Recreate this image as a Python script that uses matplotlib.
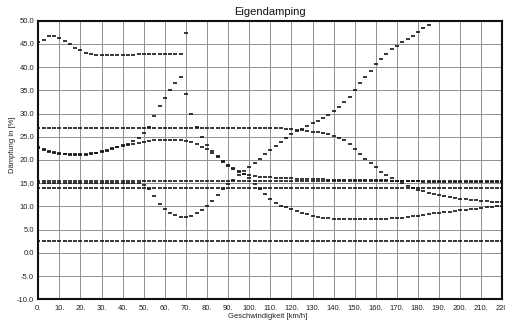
import numpy as np
import matplotlib
matplotlib.use("Agg")
import matplotlib.pyplot as plt

plt.rcParams['font.family'] = ['Liberation Sans', 'DejaVu Sans']

# ---------------- data (speed grid step 2.5 km/h) ----------------
step = 2.5

# top mode (0 .. 70 km/h)
a_start = 0.0
a_vals = [45.4, 45.9, 46.7, 46.8, 46.3, 45.6, 44.9, 44.2, 43.6, 43.1,
          42.8, 42.7, 42.6, 42.6, 42.6, 42.6, 42.6, 42.7, 42.7, 42.8,
          42.8, 42.8, 42.9, 42.9, 42.9, 42.9, 42.9, 42.9, 47.3]

# ~27 % mode (0 .. 220)
b_start = 0.0
b_vals = [26.9, 26.9, 26.9, 26.9, 26.9, 26.9, 26.9, 26.9, 26.9, 26.9,
          26.9, 26.9, 26.9, 26.9, 26.9, 26.9, 26.9, 26.9, 26.9, 26.9,
          26.9, 26.9, 26.9, 26.9, 26.8, 26.8, 26.8, 26.8, 26.8, 26.8,
          26.8, 26.8, 26.8, 26.8, 26.8, 26.8, 26.8, 26.8, 26.8, 26.8,
          26.8, 26.8, 26.8, 26.8, 26.8, 26.8, 26.8,
          26.7, 26.6, 26.5, 26.4, 26.3, 26.1, 26.0, 25.8, 25.5, 25.2,
          24.8, 24.3, 23.4, 22.3, 21.2, 20.2, 19.3, 18.4, 17.5, 16.7,
          16.1, 15.5, 15.0, 14.5, 14.0, 13.6, 13.3, 12.9, 12.6, 12.4,
          12.2, 12.0, 11.8, 11.6, 11.5, 11.4, 11.3, 11.2, 11.1, 11.0,
          11.0, 10.9]

# ~22 % mode (0 .. 220)
c_start = 0.0
c_vals = [22.6, 22.2, 21.8, 21.5, 21.3, 21.2, 21.1, 21.0, 21.1, 21.1,
          21.2, 21.4, 21.7, 22.0, 22.4, 22.7, 23.0, 23.2, 23.5, 23.7,
          23.9, 24.1, 24.2, 24.3, 24.4, 24.4, 24.4, 24.3, 24.1, 23.8,
          23.4, 22.9, 22.3, 21.6, 20.6, 19.6, 18.8, 18.0, 17.4, 17.0,
          16.7, 16.5, 16.4, 16.3, 16.3, 16.2, 16.2, 16.1, 16.1, 16.0,
          16.0, 16.0, 15.9, 15.9, 15.9, 15.8, 15.8, 15.8, 15.8, 15.7,
          15.7, 15.7, 15.7, 15.6, 15.6, 15.6, 15.6, 15.5, 15.5, 15.5,
          15.4, 15.4, 15.4, 15.3, 15.3, 15.3, 15.3, 15.3, 15.2, 15.2,
          15.2, 15.2, 15.2, 15.2, 15.2, 15.2, 15.2, 15.2, 15.2]

# steeply rising mode (0 .. 67.5)
f_start = 0.0
f_vals = [22.9, 22.4, 22.0, 21.7, 21.4, 21.3, 21.2, 21.2, 21.2, 21.3,
          21.4, 21.6, 21.9, 22.2, 22.5, 22.9, 23.2, 23.5, 24.0, 24.8,
          25.8, 27.2, 29.4, 31.6, 33.4, 35.0, 36.5, 37.9]

# falling mode (70 .. 220)
p_start = 70.0
p_vals = [34.2, 30.0, 27.1, 25.0, 23.3, 22.0, 20.8, 19.7, 18.9, 18.2,
          17.6, 17.0, 16.1, 14.9, 13.7, 12.7, 11.6, 10.8, 10.2, 9.8,
          9.4, 9.0, 8.6, 8.3, 8.0, 7.8, 7.6, 7.5, 7.4, 7.3,
          7.2, 7.2, 7.2, 7.2, 7.2, 7.2, 7.3, 7.3, 7.4, 7.5,
          7.5, 7.6, 7.7, 7.9, 8.0, 8.2, 8.3, 8.5, 8.6, 8.8,
          8.9, 9.0, 9.2, 9.3, 9.4, 9.5, 9.7, 9.8, 9.9, 10.0,
          10.2]

# 15 % mode with dip and rise (0 .. 185)
d_start = 0.0
d_vals = [15.0, 15.0, 15.0, 15.0, 15.0, 15.0, 15.0, 15.0, 15.0, 15.0,
          15.0, 15.0, 15.0, 15.0, 15.0, 15.0, 15.1, 15.1, 15.1, 15.1,
          14.6, 13.8, 12.3, 10.6, 9.4, 8.6, 8.1, 7.8, 7.8, 8.0,
          8.5, 9.3, 10.2, 11.2, 12.4, 13.7, 14.9, 15.8,
          16.8, 17.7, 18.6, 19.4, 20.2, 21.2, 22.1, 23.0, 23.8, 24.8,
          25.6, 26.2, 26.7, 27.4, 28.0, 28.5, 29.1, 29.7, 30.6, 31.5,
          32.4, 33.5, 35.1, 36.5, 37.8, 39.2, 40.6, 41.8, 42.9, 43.8,
          44.6, 45.4, 46.1, 46.8, 47.6, 48.4, 49.1]

# flat modes (0 .. 220)
h1_start = 0.0
h1_vals = [15.5, 15.5, 15.5, 15.5, 15.5, 15.5, 15.5, 15.5, 15.5, 15.5,
           15.5, 15.5, 15.5, 15.5, 15.5, 15.5, 15.5, 15.5, 15.5, 15.5,
           15.5, 15.5, 15.5, 15.5, 15.5, 15.5, 15.5, 15.5, 15.5, 15.5,
           15.5, 15.5, 15.5, 15.5, 15.5, 15.5, 15.5, 15.5, 15.5, 15.5,
           15.5, 15.5, 15.5, 15.5, 15.5, 15.5, 15.5, 15.5, 15.5, 15.5,
           15.5, 15.5, 15.5, 15.5, 15.5, 15.5, 15.5, 15.5, 15.5, 15.5,
           15.5, 15.5, 15.5, 15.5, 15.5, 15.5, 15.5, 15.5, 15.5, 15.5,
           15.5, 15.5, 15.5, 15.5, 15.5, 15.5, 15.5, 15.5, 15.5, 15.5,
           15.5, 15.5, 15.5, 15.5, 15.5, 15.5, 15.5, 15.5, 15.5]
h2_start = 0.0
h2_vals = [13.9, 13.9, 13.9, 13.9, 13.9, 13.9, 13.9, 13.9, 13.9, 13.9,
           13.9, 13.9, 13.9, 13.9, 13.9, 13.9, 13.9, 13.9, 13.9, 13.9,
           13.9, 13.9, 13.9, 13.9, 13.9, 13.9, 13.9, 13.9, 13.9, 13.9,
           13.9, 13.9, 13.9, 13.9, 13.9, 13.9, 13.9, 13.9, 13.9, 13.9,
           13.9, 13.9, 13.9, 13.9, 13.9, 13.9, 13.9, 13.9, 13.9, 13.9,
           13.9, 13.9, 13.9, 13.9, 13.9, 13.9, 13.9, 13.9, 13.9, 13.9,
           13.9, 13.9, 13.9, 13.9, 13.9, 13.9, 13.9, 13.9, 13.9, 13.9,
           13.9, 13.9, 13.9, 13.9, 13.9, 13.9, 13.9, 13.9, 13.9, 13.9,
           13.9, 13.9, 13.9, 13.9, 13.9, 13.9, 13.9, 13.9, 13.9]
h3_start = 0.0
h3_vals = [2.5, 2.5, 2.5, 2.5, 2.5, 2.5, 2.5, 2.5, 2.5, 2.5,
           2.5, 2.5, 2.5, 2.5, 2.5, 2.5, 2.5, 2.5, 2.5, 2.5,
           2.5, 2.5, 2.5, 2.5, 2.5, 2.5, 2.5, 2.5, 2.5, 2.5,
           2.5, 2.5, 2.5, 2.5, 2.5, 2.5, 2.5, 2.5, 2.5, 2.5,
           2.5, 2.5, 2.5, 2.5, 2.5, 2.5, 2.5, 2.5, 2.5, 2.5,
           2.5, 2.5, 2.5, 2.5, 2.5, 2.5, 2.5, 2.5, 2.5, 2.5,
           2.5, 2.5, 2.5, 2.5, 2.5, 2.5, 2.5, 2.5, 2.5, 2.5,
           2.5, 2.5, 2.5, 2.5, 2.5, 2.5, 2.5, 2.5, 2.5, 2.5,
           2.5, 2.5, 2.5, 2.5, 2.5, 2.5, 2.5, 2.5, 2.5]

x_ticks = [0, 10, 20, 30, 40, 50, 60, 70, 80, 90, 100, 110,
           120, 130, 140, 150, 160, 170, 180, 190, 200, 210, 220]
x_tick_labels = ["0.", "10.", "20.", "30.", "40.", "50.", "60.", "70.",
                 "80.", "90.", "100.", "110.", "120.", "130.", "140.",
                 "150.", "160.", "170.", "180.", "190.", "200.", "210.", "220."]
y_ticks = [-10, -5, 0, 5, 10, 15, 20, 25, 30, 35, 40, 45, 50]
y_tick_labels = ["-10.0", "-5.0", "0.0", "5.0", "10.0", "15.0", "20.0",
                 "25.0", "30.0", "35.0", "40.0", "45.0", "50.0"]

title = "Eigendamping"
xlabel = "Geschwindigkeit [km/h]"
ylabel = "Dämpfung in [%]"

series = [(a_start, a_vals), (b_start, b_vals), (c_start, c_vals),
          (f_start, f_vals), (p_start, p_vals), (d_start, d_vals),
          (h1_start, h1_vals), (h2_start, h2_vals), (h3_start, h3_vals)]

# ---------------- figure ----------------
W, H = 505, 320
fig = plt.figure(figsize=(W / 100, H / 100), dpi=100)
fig.patch.set_facecolor('white')
L, R, T, B = 38.3, 502.5, 20.7, 299.3
ax = fig.add_axes([L / W, 1 - B / H, (R - L) / W, (B - T) / H])

for start, vals in series:
    y = np.array(vals, dtype=float)
    x = start + step * np.arange(len(y))
    ax.plot(x, y, linestyle='none', marker='_', markersize=2.5,
            markeredgewidth=1.2, color='#141414', clip_on=True, zorder=3)

ax.set_xlim(0, 220)
ax.set_ylim(-10, 50)
ax.set_xticks(x_ticks)
ax.set_xticklabels(x_tick_labels)
ax.set_yticks(y_ticks)
ax.set_yticklabels(y_tick_labels)
ax.tick_params(axis='both', length=0, labelsize=5.5, colors='#222222')
ax.tick_params(axis='x', pad=4)
ax.tick_params(axis='y', pad=3)
ax.grid(True, color='#909090', linewidth=0.7)
ax.set_axisbelow(True)
for s in ax.spines.values():
    s.set_linewidth(1.5)
    s.set_color('#111111')

fig.text(270.4 / W, 1 - 12 / H, title, ha='center', va='center',
         fontsize=8, color='#111111')
fig.text(267.5 / W, 1 - 316.5 / H, xlabel, ha='center', va='center',
         fontsize=5.5, color='#222222')
fig.text(12.5 / W, 1 - 145 / H, ylabel, ha='center', va='center',
         rotation=90, fontsize=5.5, color='#222222')

fig.savefig('out.png', dpi=100, facecolor='white')
